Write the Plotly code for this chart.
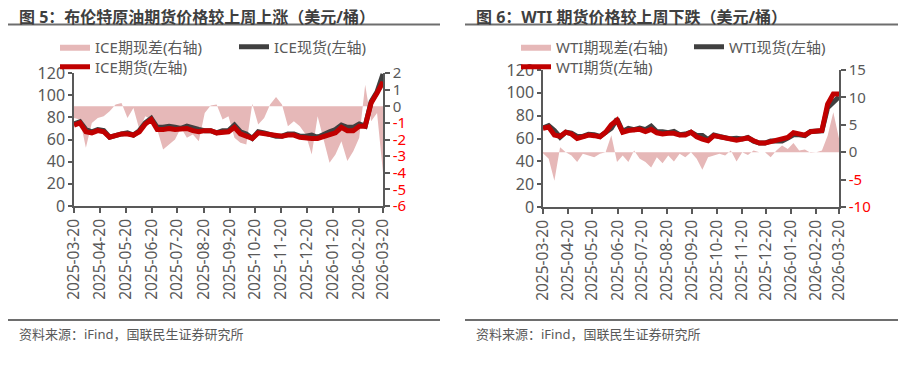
import plotly.graph_objects as go
import pandas as pd

# ---------------- data ----------------
dates = pd.date_range("2025-03-20", "2026-03-20", periods=53)

month_ticks = ["2025-03-20", "2025-04-20", "2025-05-20", "2025-06-20", "2025-07-20",
               "2025-08-20", "2025-09-20", "2025-10-20", "2025-11-20", "2025-12-20",
               "2026-01-20", "2026-02-20", "2026-03-20"]

ice_futures = [73, 75, 67, 66, 68, 67, 62, 64, 65, 65, 64, 67, 74, 78, 69, 69, 70, 69,
               69, 70, 68, 67, 68, 68, 66, 67, 67, 71, 65, 63, 61, 66, 65, 64, 64, 63,
               64, 64, 62, 61, 61, 61, 63, 64, 66, 71, 68, 68, 72, 72, 93, 102, 112]
ice_spot = [74, 76, 69, 67, 69, 68, 62, 64, 65, 66, 64, 68, 75, 79, 71, 71, 72, 71,
            70, 72, 70, 69, 68, 68, 66, 68, 68, 73, 67, 65, 61, 67, 66, 64, 63, 63,
            65, 65, 63, 63, 64, 62, 65, 67, 69, 73, 71, 71, 74, 72, 94, 103, 119]
ice_basis = [-0.7, -0.8, -2.5, -1.0, -0.7, -0.6, -0.3, 0.1, 0.2, -0.7, -0.1, -1.4,
             -0.6, -0.8, -1.4, -2.6, -2.3, -2.0, -1.3, -1.9, -1.7, -2.1, -0.4, 0.05,
             0.1, -0.8, -0.6, -1.9, -2.2, -2.3, 0.15, -1.1, -0.7, 0.1, 0.55, 0.1,
             -1.2, -0.9, -1.2, -1.7, -2.9, -0.6, -2.0, -3.4, -2.9, -2.1, -3.3, -2.7,
             -1.9, 1.3, -0.9, -0.4, -4.0]

wti_futures = [69, 70, 63, 62, 65.5, 64, 60, 61.5, 63, 62.5, 61.5, 65.5, 72, 76, 65.5,
               67, 68, 68, 66, 68, 65, 64, 64.5, 64.5, 63, 63, 65.5, 61.5, 59.5, 58,
               62.5, 61.5, 60.5, 60, 58.5, 59.5, 60.5, 58, 56, 56, 57, 58.5, 59, 61,
               65, 63.5, 63, 66, 66, 67, 90, 99, 99]
wti_spot = [69.2, 71.2, 67, 61.1, 65.5, 64.6, 61.8, 61.8, 63.6, 63.4, 61.8, 65.5, 69,
            77, 66.1, 68.8, 67.7, 69.2, 67.8, 70.8, 65.9, 66, 65.1, 66.2, 63.3, 63.9,
            65.5, 62.7, 62.7, 58.9, 63.1, 61.8, 61.1, 59.7, 60.2, 59.5, 61, 57.7, 56,
            56, 57.9, 58.2, 57.8, 60.4, 63.3, 63.2, 62.5, 66.1, 66, 66.7, 87, 92, 96.5]
wti_basis = [-0.2, -1.2, -5.2, 0.9, 0.0, -0.6, -1.8, -0.3, -0.6, -0.9, -0.3, 0.0, 3.1,
             -1.8, -0.6, -1.8, 0.3, -1.2, -1.8, -2.8, -0.9, -2.0, -0.6, -1.7, -0.3,
             -0.9, 0.0, -1.2, -3.2, -0.9, -0.6, -0.3, -0.6, 0.3, -1.7, 0.0, -0.5, 0.3,
             0.0, 0.0, -0.9, 0.3, 1.2, 0.6, 1.7, 0.3, 0.5, -0.1, 0.0, 0.3, 3.0, 7.3, 2.5]

ice_right_ticks = [-6, -5, -4, -3, -2, -1, 0, 1, 2]
wti_right_ticks = [-10, -5, 0, 5, 10, 15]
left_ticks = [0, 20, 40, 60, 80, 100, 120]

# ---------------- style ----------------
FONT = "Noto Sans, Noto Sans CJK SC, sans-serif"
GREY = "#595959"
PINK = "#E6B8B8"
DARK = "#404040"
RED = "#C00000"
NEG = "#FF0000"
W, H = 916, 368
OFF = 8  # page body margin offset of the figure in the browser


def tick_text(vals):
    out = []
    for v in vals:
        if v < 0:
            out.append('<span style="color:%s">%d</span>' % (NEG, v))
        else:
            out.append(str(v))
    return out


def px(xp):
    return (xp - OFF) / W


def py(yp):
    return 1 - (yp - OFF) / H


fig = go.Figure()

panels = [
    dict(x="x", yb="y", yl="y2", name="ICE", fut=ice_futures, spot=ice_spot, basis=ice_basis,
         legs=("legend", "legend2", "legend3")),
    dict(x="x2", yb="y3", yl="y4", name="WTI", fut=wti_futures, spot=wti_spot, basis=wti_basis,
         legs=("legend4", "legend5", "legend6")),
]

for p in panels:
    fig.add_trace(go.Scatter(x=dates, y=p["basis"], xaxis=p["x"], yaxis=p["yb"],
                             mode="lines", line=dict(width=0, color=PINK), fill="tozeroy",
                             fillcolor=PINK, name=p["name"] + "期现差(右轴)", legend=p["legs"][0],
                             hoverinfo="skip"))
    fig.add_trace(go.Scatter(x=dates, y=p["spot"], xaxis=p["x"], yaxis=p["yl"],
                             mode="lines", line=dict(width=5, color=DARK),
                             name=p["name"] + "现货(左轴)", legend=p["legs"][1]))
    fig.add_trace(go.Scatter(x=dates, y=p["fut"], xaxis=p["x"], yaxis=p["yl"],
                             mode="lines", line=dict(width=5, color=RED),
                             name=p["name"] + "期货(左轴)", legend=p["legs"][2]))

xcommon = dict(type="date", range=["2025-03-20", "2026-03-20"], tickvals=month_ticks,
               ticktext=month_ticks, tickangle=-90, ticks="outside", ticklen=5,
               tickcolor=GREY, tickwidth=1.5, showline=True, linecolor=GREY, linewidth=1.5,
               showgrid=False, zeroline=False, automargin=False,
               tickfont=dict(family=FONT, size=15.5, color=GREY))

ycommon_left = dict(range=[0, 120], tickvals=left_ticks, ticks="outside", ticklen=4,
                    tickcolor=GREY, tickwidth=1.5, showline=True, linecolor=GREY, linewidth=1.5,
                    showgrid=False, zeroline=False, side="left", automargin=False,
                    tickfont=dict(family=FONT, size=16, color=GREY))
ycommon_right = dict(ticks="outside", ticklen=5, tickcolor=GREY, tickwidth=1.5,
                     showline=True, linecolor=GREY, linewidth=1.5, showgrid=False,
                     zeroline=False, side="right", automargin=False,
                     tickfont=dict(family=FONT, size=15, color=GREY))

LX = [px(74), px(383)]
RX = [px(543), px(839)]
LY = [py(206), py(73)]
RY = [py(207), py(70)]

fig.update_layout(
    xaxis=dict(domain=LX, anchor="y", **xcommon),
    xaxis2=dict(domain=RX, anchor="y3", **xcommon),
    yaxis=dict(domain=LY, anchor="x", range=[-6, 2], tickvals=ice_right_ticks,
               ticktext=tick_text(ice_right_ticks), **ycommon_right),
    yaxis2=dict(overlaying="y", anchor="x", **ycommon_left),
    yaxis3=dict(domain=RY, anchor="x2", range=[-10, 15], tickvals=wti_right_ticks,
                ticktext=tick_text(wti_right_ticks), **ycommon_right),
    yaxis4=dict(overlaying="y3", anchor="x2", **ycommon_left),
)

leg_font = dict(family=FONT, size=15, color=GREY)


def leg(xp, yp):
    return dict(x=px(xp), y=py(yp), xanchor="left", yanchor="middle", orientation="v",
                bgcolor="rgba(0,0,0,0)", font=leg_font, itemwidth=30)


fig.update_layout(
    legend=leg(55, 47), legend2=leg(234, 47), legend3=leg(55, 67),
    legend4=leg(516, 47), legend5=leg(689, 47), legend6=leg(516, 67),
)

# titles, rules and source lines
annots = [
    dict(text="<b>图 5：布伦特原油期货价格较上周上涨（美元/桶）</b>", x=px(17), y=py(17)),
    dict(text="<b>图 6：WTI 期货价格较上周下跌（美元/桶）</b>", x=px(474), y=py(17)),
]
for a in annots:
    fig.add_annotation(text=a["text"], x=a["x"], y=a["y"], xref="paper", yref="paper",
                       xanchor="left", yanchor="middle", showarrow=False,
                       font=dict(family=FONT, size=16, color="#3F3F3F"))
for sx in (17, 474):
    fig.add_annotation(text="资料来源：iFind，国联民生证券研究所", x=px(sx), y=py(334),
                       xref="paper", yref="paper", xanchor="left", yanchor="middle",
                       showarrow=False, font=dict(family=FONT, size=13, color=GREY))

for x0, x1 in ((8, 440), (465, 898)):
    for yy in (24.5, 320):
        fig.add_shape(type="line", xref="paper", yref="paper", x0=px(x0), x1=px(x1),
                      y0=py(yy), y1=py(yy), line=dict(color="#6E6E6E", width=2))

fig.update_layout(width=W, height=H, autosize=False,
                  margin=dict(l=0, r=0, t=0, b=0, pad=0, autoexpand=False),
                  paper_bgcolor="white", plot_bgcolor="white", showlegend=True,
                  font=dict(family=FONT, color=GREY))

fig.write_html("out.html")
